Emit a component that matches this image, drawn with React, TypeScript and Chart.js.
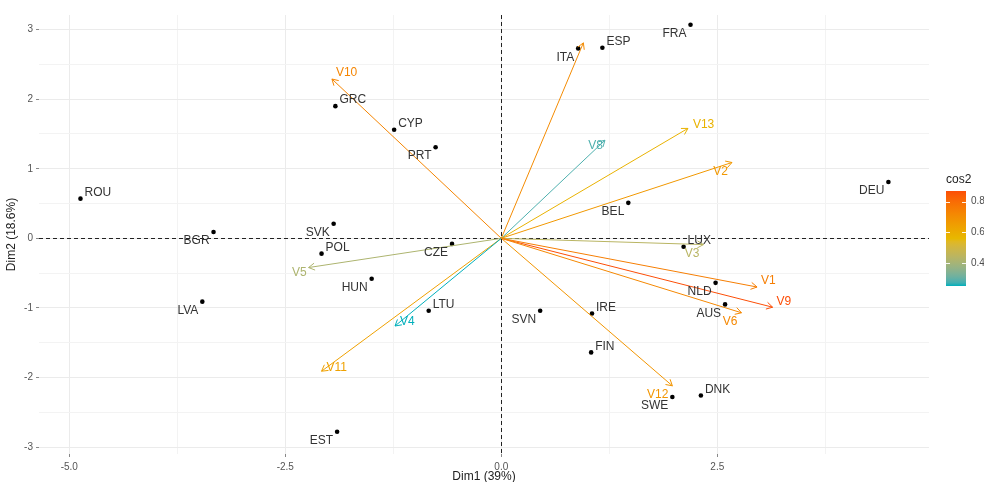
import React, { useEffect, useRef } from "react";
import { Chart, registerables } from "chart.js";

Chart.register(...registerables);

// ---- Individuals (countries) ----
const indNames = ["ROU","BGR","LVA","SVK","POL","HUN","CZE","LTU","EST","GRC","CYP","PRT","ITA","ESP","FRA","BEL","LUX","NLD","AUS","DEU","IRE","SVN","FIN","SWE","DNK"];
const indDim1 = [-4.87,-3.33,-3.46,-1.94,-2.08,-1.50,-0.57,-0.84,-1.90,-1.92,-1.24,-0.76,0.89,1.17,2.19,1.47,2.11,2.48,2.59,4.48,1.05,0.45,1.04,1.98,2.31];
const indDim2 = [0.57,0.09,-0.91,0.21,-0.22,-0.58,-0.08,-1.04,-2.78,1.90,1.56,1.31,2.73,2.74,3.07,0.51,-0.12,-0.64,-0.95,0.81,-1.08,-1.04,-1.64,-2.28,-2.26];
const indLabelPos = ["ne","sw","sw","sw","ne","sw","sw","ne","sw","ne","ne","sw","sw","ne","sw","sw","ne","sw","sw","sw","ne","sw","ne","sw","ne"];

// ---- Variables (arrows) ----
const varNames = ["V1","V2","V3","V4","V5","V6","V7","V8","V9","V10","V11","V12","V13"];
const varDim1 = [2.96,2.67,2.34,-1.23,-2.23,2.78,0.95,1.20,3.14,-1.96,-2.08,1.98,2.16];
const varDim2 = [-0.70,1.09,-0.09,-1.26,-0.42,-1.07,2.81,1.41,-0.99,2.29,-1.91,-2.12,1.58];
const varCos2 = [0.75,0.67,0.44,0.25,0.415,0.72,0.71,0.28,0.87,0.73,0.64,0.68,0.58];
const varLabelPos = ["ne","sw","sw","e","w","sw","none","w","ne","ne","e","sw","e"];

// ---- Axes ----
const xMajorTicks = [-5, -2.5, 0, 2.5];
const xMinorTicks = [-3.75, -1.25, 1.25, 3.75];
const yMajorTicks = [-3, -2, -1, 0, 1, 2, 3];
const yMinorTicks = [-2.5, -1.5, -0.5, 0.5, 1.5, 2.5];
const xRange = [-5.35, 4.95];
const yRange = [-3.1, 3.21];
const xTitle = "Dim1 (39%)";
const yTitle = "Dim2 (18.6%)";
const legendTitle = "cos2";
const legendBreaks = [0.4, 0.6, 0.8];
const gradientCols = ["#00AFBB", "#E7B800", "#FC4E07"];

const FONT = "'Liberation Sans', Arial, sans-serif";

// ---- Lab colour interpolation (like ggplot's gradientn) ----
function hexToRgb(h: string) {
  const n = parseInt(h.slice(1), 16);
  return [(n >> 16) & 255, (n >> 8) & 255, n & 255];
}
function toLin(c: number) { c /= 255; return c <= 0.04045 ? c / 12.92 : Math.pow((c + 0.055) / 1.055, 2.4); }
function fromLin(c: number) { const v = c <= 0.0031308 ? 12.92 * c : 1.055 * Math.pow(c, 1 / 2.4) - 0.055; return Math.max(0, Math.min(255, Math.round(v * 255))); }
const WX = 0.95047, WY = 1, WZ = 1.08883;
function rgbToLab(rgb: number[]) {
  const [r, g, b] = rgb.map(toLin);
  const X = (r * 0.4124 + g * 0.3576 + b * 0.1805) / WX;
  const Y = (r * 0.2126 + g * 0.7152 + b * 0.0722) / WY;
  const Z = (r * 0.0193 + g * 0.1192 + b * 0.9505) / WZ;
  const f = (t: number) => (t > 0.008856 ? Math.cbrt(t) : 7.787 * t + 16 / 116);
  const fx = f(X), fy = f(Y), fz = f(Z);
  return [116 * fy - 16, 500 * (fx - fy), 200 * (fy - fz)];
}
function labToRgb(lab: number[]) {
  const [L, a, b] = lab;
  const fy = (L + 16) / 116, fx = fy + a / 500, fz = fy - b / 200;
  const inv = (t: number) => (t * t * t > 0.008856 ? t * t * t : (t - 16 / 116) / 7.787);
  const X = inv(fx) * WX, Y = inv(fy) * WY, Z = inv(fz) * WZ;
  const r = X * 3.2406 + Y * -1.5372 + Z * -0.4986;
  const g = X * -0.9689 + Y * 1.8758 + Z * 0.0415;
  const bb = X * 0.0557 + Y * -0.204 + Z * 1.057;
  return [fromLin(r), fromLin(g), fromLin(bb)];
}
const labCols = gradientCols.map((c) => rgbToLab(hexToRgb(c)));
const cosMin = Math.min(...varCos2);
const cosMax = Math.max(...varCos2);
function colorFor(v: number) {
  let t = (v - cosMin) / (cosMax - cosMin);
  t = Math.max(0, Math.min(1, t));
  const seg = t < 0.5 ? 0 : 1;
  const lt = t < 0.5 ? t / 0.5 : (t - 0.5) / 0.5;
  const A = labCols[seg], B = labCols[seg + 1];
  const lab = [A[0] + (B[0] - A[0]) * lt, A[1] + (B[1] - A[1]) * lt, A[2] + (B[2] - A[2]) * lt];
  const [r, g, b] = labToRgb(lab);
  return `rgb(${r},${g},${b})`;
}

const isMajor = (v: number, majors: number[]) => majors.some((m) => Math.abs(m - v) < 1e-9);

function placeText(ctx: CanvasRenderingContext2D, text: string, px: number, py: number, pos: string) {
  if (pos === "none") return;
  ctx.textBaseline = "middle";
  if (pos === "ne") { ctx.textAlign = "left"; ctx.fillText(text, px + 4, py - 6); }
  else if (pos === "sw") { ctx.textAlign = "right"; ctx.fillText(text, px - 4, py + 9); }
  else if (pos === "e") { ctx.textAlign = "left"; ctx.fillText(text, px + 5, py - 4); }
  else if (pos === "w") { ctx.textAlign = "right"; ctx.fillText(text, px - 2, py + 5); }
}

const biplotPlugin = {
  id: "biplot",
  beforeDatasetsDraw(chart: any) {
    const { ctx, chartArea, scales } = chart;
    const x0 = scales.x.getPixelForValue(0);
    const y0 = scales.y.getPixelForValue(0);
    ctx.save();
    ctx.strokeStyle = "#222";
    ctx.lineWidth = 1;
    ctx.setLineDash([4, 3]);
    ctx.beginPath();
    ctx.moveTo(chartArea.left, Math.round(y0) + 0.5);
    ctx.lineTo(chartArea.right, Math.round(y0) + 0.5);
    ctx.moveTo(Math.round(x0) + 0.5, chartArea.top);
    ctx.lineTo(Math.round(x0) + 0.5, chartArea.bottom);
    ctx.stroke();
    ctx.restore();
  },
  afterDatasetsDraw(chart: any) {
    const { ctx, scales, chartArea } = chart;
    const sx = scales.x, sy = scales.y;
    const ox = sx.getPixelForValue(0), oy = sy.getPixelForValue(0);
    ctx.save();
    // arrowheads
    varNames.forEach((_, i) => {
      const tx = sx.getPixelForValue(varDim1[i]);
      const ty = sy.getPixelForValue(varDim2[i]);
      const ang = Math.atan2(ty - oy, tx - ox);
      const len = 7, spread = Math.PI / 6;
      ctx.strokeStyle = colorFor(varCos2[i]);
      ctx.lineWidth = 1;
      ctx.beginPath();
      ctx.moveTo(tx - len * Math.cos(ang - spread), ty - len * Math.sin(ang - spread));
      ctx.lineTo(tx, ty);
      ctx.lineTo(tx - len * Math.cos(ang + spread), ty - len * Math.sin(ang + spread));
      ctx.stroke();
    });
    // individual labels
    ctx.font = `12px ${FONT}`;
    ctx.fillStyle = "#333333";
    indNames.forEach((n, i) => {
      placeText(ctx, n, sx.getPixelForValue(indDim1[i]), sy.getPixelForValue(indDim2[i]), indLabelPos[i]);
    });
    // variable labels
    varNames.forEach((n, i) => {
      ctx.fillStyle = colorFor(varCos2[i]);
      placeText(ctx, n, sx.getPixelForValue(varDim1[i]), sy.getPixelForValue(varDim2[i]), varLabelPos[i]);
    });
    ctx.restore();
  },
  afterDraw(chart: any) {
    const { ctx, chartArea } = chart;
    ctx.save();
    // axis titles
    ctx.fillStyle = "#222";
    ctx.font = `12px ${FONT}`;
    ctx.textAlign = "center";
    ctx.textBaseline = "middle";
    ctx.fillText(xTitle, (chartArea.left + chartArea.right) / 2, 477);
    ctx.save();
    ctx.translate(12, (chartArea.top + chartArea.bottom) / 2);
    ctx.rotate(-Math.PI / 2);
    ctx.fillText(yTitle, 0, 0);
    ctx.restore();
    // colour bar legend
    const bx = 946, bw = 20, btop = 191, bbot = 286;
    const grad = ctx.createLinearGradient(0, bbot, 0, btop);
    for (let k = 0; k <= 30; k++) {
      const v = cosMin + (cosMax - cosMin) * (k / 30);
      grad.addColorStop(k / 30, colorFor(v));
    }
    ctx.fillStyle = grad;
    ctx.fillRect(bx, btop, bw, bbot - btop);
    ctx.fillStyle = "#222";
    ctx.font = `12px ${FONT}`;
    ctx.textAlign = "left";
    ctx.fillText(legendTitle, bx, 180);
    ctx.font = `10px ${FONT}`;
    ctx.fillStyle = "#4D4D4D";
    legendBreaks.forEach((b) => {
      const y = bbot - ((b - cosMin) / (cosMax - cosMin)) * (bbot - btop);
      ctx.strokeStyle = "rgba(255,255,255,0.9)";
      ctx.lineWidth = 1;
      ctx.beginPath();
      ctx.moveTo(bx, Math.round(y) + 0.5); ctx.lineTo(bx + 4, Math.round(y) + 0.5);
      ctx.moveTo(bx + bw - 4, Math.round(y) + 0.5); ctx.lineTo(bx + bw, Math.round(y) + 0.5);
      ctx.stroke();
      ctx.fillText(b.toFixed(1), bx + bw + 5, y);
    });
    ctx.restore();
  },
};

export default function App() {
  const ref = useRef<HTMLCanvasElement>(null);
  useEffect(() => {
    if (!ref.current) return;
    const arrowSets = varNames.map((n, i) => ({
      label: n,
      data: [{ x: 0, y: 0 }, { x: varDim1[i], y: varDim2[i] }],
      showLine: true,
      borderColor: colorFor(varCos2[i]),
      borderWidth: 1,
      pointRadius: 0,
      fill: false,
    }));
    const pointSet = {
      label: "individuals",
      data: indNames.map((_, i) => ({ x: indDim1[i], y: indDim2[i] })),
      backgroundColor: "#000",
      borderColor: "#000",
      pointRadius: 2.3,
      borderWidth: 0,
      showLine: false,
    };
    const chart = new Chart(ref.current, {
      type: "scatter",
      data: { datasets: [...arrowSets, pointSet] as any },
      options: {
        animation: false,
        responsive: false,
        layout: { padding: { left: 0, top: 15, right: 55, bottom: 0 } },
        plugins: { legend: { display: false }, tooltip: { enabled: false } },
        scales: {
          x: {
            type: "linear",
            min: xRange[0],
            max: xRange[1],
            afterBuildTicks: (s: any) => { s.ticks = [...xMajorTicks, ...xMinorTicks].sort((a, b) => a - b).map((v) => ({ value: v })); },
            afterFit: (s: any) => { s.height = 28; },
            border: { display: false },
            grid: {
              color: (c: any) => (c.tick && isMajor(c.tick.value, xMajorTicks) ? "#EBEBEB" : "#F3F3F3"),
              tickColor: (c: any) => (c.tick && isMajor(c.tick.value, xMajorTicks) ? "#888" : "rgba(0,0,0,0)"),
              tickLength: 3,
              lineWidth: 1,
            },
            ticks: {
              autoSkip: false,
              maxRotation: 0,
              padding: 4,
              color: "#555",
              font: { family: FONT, size: 10 },
              callback: (v: any) => (isMajor(Number(v), xMajorTicks) ? Number(v).toFixed(1) : ""),
            },
          },
          y: {
            type: "linear",
            min: yRange[0],
            max: yRange[1],
            afterBuildTicks: (s: any) => { s.ticks = [...yMajorTicks, ...yMinorTicks].sort((a, b) => a - b).map((v) => ({ value: v })); },
            afterFit: (s: any) => { s.width = 39; },
            border: { display: false },
            grid: {
              color: (c: any) => (c.tick && isMajor(c.tick.value, yMajorTicks) ? "#EBEBEB" : "#F3F3F3"),
              tickColor: (c: any) => (c.tick && isMajor(c.tick.value, yMajorTicks) ? "#888" : "rgba(0,0,0,0)"),
              tickLength: 3,
              lineWidth: 1,
            },
            ticks: {
              autoSkip: false,
              padding: 3,
              color: "#555",
              font: { family: FONT, size: 10 },
              callback: (v: any) => (isMajor(Number(v), yMajorTicks) ? String(Number(v)) : ""),
            },
          },
        },
      },
      plugins: [biplotPlugin],
    });
    return () => chart.destroy();
  }, []);
  return (
    <div style={{ position: "absolute", left: 0, top: 0, width: 984, height: 482, background: "#fff" }}>
      <canvas ref={ref} width={984} height={482} style={{ display: "block" }} />
    </div>
  );
}
